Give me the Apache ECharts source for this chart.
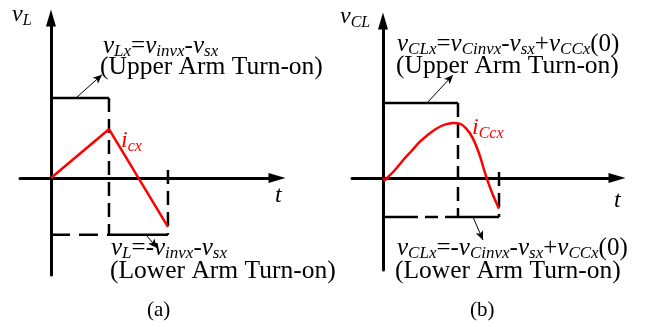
<!DOCTYPE html>
<html>
<head>
<meta charset="utf-8">
<script src="https://cdn.jsdelivr.net/npm/echarts@6/dist/echarts.min.js"></script>
<style>
  html, body { margin: 0; padding: 0; background: #fff; }
  #chart { width: 652px; height: 327px; }
</style>
</head>
<body>
<div id="chart"></div>
<script>
// (a) inductor voltage and current over one switching interval
const tA = [0, 1, 2.017];            // start, turn-on edge, end
const vUpperA = 1.0;                 // upper-arm level
const vLowerA = -0.71;               // lower-arm level
const iA = [0, 0.61, -0.61];         // triangular current at tA

// (b) capacitor voltage and current
const tB = [0, 1, 1.547];
const vUpperB = 1.0;
const vLowerB = -0.52;
const tCurveB = [0, 0.027, 0.067, 0.156, 0.267, 0.377, 0.489, 0.6, 0.711, 0.823, 0.933, 1.023, 1.111, 1.2, 1.289, 1.356, 1.4, 1.467, 1.547];
const iCurveB = [0, -0.027, 0.013, 0.103, 0.236, 0.356, 0.48, 0.577, 0.657, 0.711, 0.733, 0.724, 0.657, 0.524, 0.303, 0.08, -0.053, -0.231, -0.409];

// pointer arrows from the levels to their captions: [from, to]
const pointerA = [[[0.43, vUpperA], [0.88, 1.29]], [[1.638, vLowerA], [1.828, -0.875]]];
const pointerB = [[[0.587, vUpperB], [0.933, 1.373]], [[1.2, vLowerB], [1.333, -0.827]]];

const SERIF = 'Liberation Serif';
const BLACK = '#000';
const RED = '#ff0000';

const chart = echarts.init(document.getElementById('chart'), null, { renderer: 'canvas' });

function axisPair(idx, xMin, xMax, yMin, yMax) {
  const line = {
    show: true, onZero: true,
    symbol: ['none', 'triangle'], symbolSize: [10, 17],
    lineStyle: { color: BLACK, width: 3 }
  };
  const common = { type: 'value', gridIndex: idx, axisLine: line, axisTick: { show: false },
    axisLabel: { show: false }, splitLine: { show: false } };
  return {
    x: Object.assign({ min: xMin, max: xMax }, common),
    y: Object.assign({ min: yMin, max: yMax }, common)
  };
}
const axA = axisPair(0, -0.534, 3.897, -1.2125, 2.0);
const axB = axisPair(1, -0.413, 3.12, -1.227, 2.093);

function seg(idx, data, opts) {
  return Object.assign({
    type: 'line', xAxisIndex: idx, yAxisIndex: idx, data: data,
    symbol: 'none', silent: true, z: 3,
    lineStyle: { color: BLACK, width: 2.5, type: 'solid', cap: 'butt' }
  }, opts || {});
}
function dashed(idx, data, pattern) {
  return seg(idx, data, { lineStyle: { color: BLACK, width: 2.5, type: pattern, cap: 'butt' } });
}
function pointers(idx, list) {
  return seg(idx, [], {
    markLine: {
      silent: true, symbol: ['none', 'arrow'], symbolSize: [6, 9],
      label: { show: false }, animation: false,
      lineStyle: { color: BLACK, width: 1, type: 'solid' },
      data: list.map(p => [{ coord: p[0] }, { coord: p[1] }])
    }
  });
}

const series = [
  // (a)
  seg(0, [[tA[0], vUpperA], [tA[1], vUpperA]]),
  dashed(0, [[tA[1], vUpperA], [tA[1], vLowerA]], [14, 7]),
  dashed(0, [[tA[0], vLowerA], [tA[1], vLowerA]], [19, 9]),
  seg(0, [[tA[1], vLowerA], [tA[2], vLowerA]]),
  dashed(0, [[tA[2], 0.1], [tA[2], vLowerA]], [14, 7]),
  seg(0, tA.map((t, k) => [t, iA[k]]), { z: 4, lineStyle: { color: RED, width: 2.5 } }),
  pointers(0, pointerA),
  // (b)
  seg(1, [[tB[0], vUpperB], [tB[1], vUpperB]]),
  dashed(1, [[tB[1], vUpperB], [tB[1], vLowerB]], [14, 7]),
  dashed(1, [[tB[0], vLowerB], [tB[1], vLowerB]], [35, 7, 13, 7]),
  seg(1, [[tB[1], vLowerB], [tB[2], vLowerB]]),
  dashed(1, [[tB[2], 0.08], [tB[2], vLowerB]], [14, 7]),
  seg(1, tCurveB.map((t, k) => [t, iCurveB[k]]), { z: 4, smooth: 0.35, lineStyle: { color: RED, width: 2.5 } }),
  pointers(1, pointerB)
];

// rich text styles for variables with subscripts
function richStyles(color, main, sub) {
  return {
    v: { fontFamily: SERIF, fontStyle: 'italic', fontSize: main, lineHeight: 28, fill: color, color: color },
    s: { fontFamily: SERIF, fontStyle: 'italic', fontSize: sub, lineHeight: 16, padding: [12, 0, 0, 0], fill: color, color: color },
    o: { fontFamily: SERIF, fontSize: main, lineHeight: 28, fill: color, color: color }
  };
}
function richText(x, y, text, color, main, sub) {
  return {
    type: 'text', x: x, y: y, silent: true, z: 10,
    style: { text: text, rich: richStyles(color || BLACK, main || 24, sub || 16), fill: color || BLACK,
      align: 'left', verticalAlign: 'middle', font: '24px "' + SERIF + '"' }
  };
}
function plainText(x, y, text, size, italic) {
  return {
    type: 'text', x: x, y: y, silent: true, z: 10,
    style: { text: text, fill: BLACK, align: 'left', verticalAlign: 'middle',
      font: (italic ? 'italic ' : '') + size + 'px "' + SERIF + '"' }
  };
}

const graphics = [
  // (a)
  richText(12, 15, '{v|v}{s|L}'),
  plainText(275, 196, 't', 24, true),
  richText(121, 141, '{v|i}{s|cx}', RED),
  richText(103, 46, '{v|v}{s|Lx}{o|=}{v|v}{s|invx}{o|-}{v|v}{s|sx}', BLACK, 25, 17),
  plainText(100, 67, '(Upper Arm Turn-on)', 25.5),
  richText(111, 248, '{v|v}{s|L}{o|=-}{v|v}{s|invx}{o|-}{v|v}{s|sx}', BLACK, 25, 17),
  plainText(110, 271, '(Lower Arm Turn-on)', 25.5),
  plainText(147, 310, '(a)', 21),
  // (b)
  richText(340, 17, '{v|v}{s|CL}'),
  plainText(614, 201, 't', 24, true),
  richText(472, 128, '{v|i}{s|Ccx}', RED),
  richText(397, 44, '{v|v}{s|CLx}{o|=}{v|v}{s|Cinvx}{o|-}{v|v}{s|sx}{o|+}{v|v}{s|CCx}{o|(0)}', BLACK, 25, 17),
  plainText(396, 66, '(Upper Arm Turn-on)', 25.5),
  richText(397, 248, '{v|v}{s|CLx}{o|=-}{v|v}{s|Cinvx}{o|-}{v|v}{s|sx}{o|+}{v|v}{s|CCx}{o|(0)}', BLACK, 25, 17),
  plainText(395, 271, '(Lower Arm Turn-on)', 25.5),
  plainText(470, 310, '(b)', 21)
];

chart.setOption({
  animation: false,
  backgroundColor: '#fff',
  grid: [
    { left: 20, right: 375, top: 18, bottom: 52 },
    { left: 352, right: 35, top: 21, bottom: 57 }
  ],
  xAxis: [axA.x, axB.x],
  yAxis: [axA.y, axB.y],
  series: series,
  graphic: graphics
});
</script>
</body>
</html>
